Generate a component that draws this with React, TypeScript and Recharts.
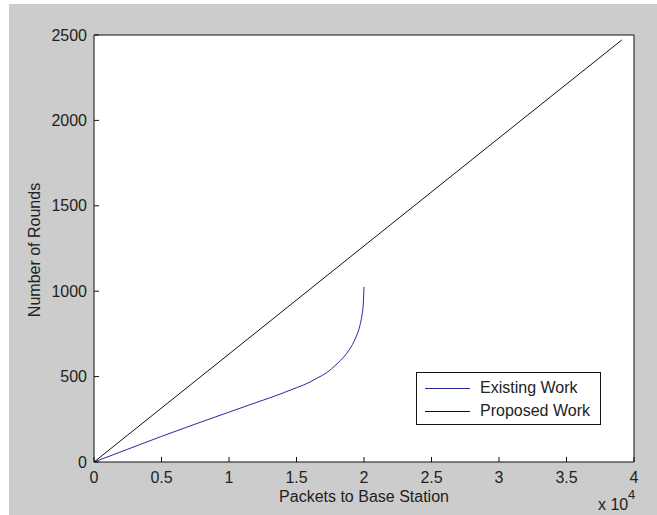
import { LineChart, Line, XAxis, YAxis, Legend } from 'recharts';

// packets to base station (raw counts, axis shows x 10^4)
const existingPackets = [0, 2500, 5000, 7500, 10000, 11500, 13000, 15000, 16000, 16500, 17200, 18000, 18500, 18900, 19400, 19700, 19850, 19950, 20000];
const existingRounds = [0, 75, 150, 222, 292, 334, 375, 435, 468, 490, 521, 575, 615, 656, 730, 800, 860, 930, 1025];

const proposedPackets = [0, 10000, 20000, 30000, 39100];
const proposedRounds = [0, 632, 1265, 1897, 2471];

const xTicks = [0, 5000, 10000, 15000, 20000, 25000, 30000, 35000, 40000];
const yTicks = [0, 500, 1000, 1500, 2000, 2500];

const existingData = existingPackets.map((x, i) => ({ x, y: existingRounds[i] }));
const proposedData = proposedPackets.map((x, i) => ({ x, y: proposedRounds[i] }));

const FONT = '"Liberation Sans", Arial, Helvetica, sans-serif';
const BLUE = '#28289a';
const tickStyle = { fill: '#222', fontSize: 16, fontFamily: FONT };

function LegendBox({ payload }: any) {
  return (
    <div
      style={{
        width: 183,
        height: 51,
        border: '1px solid #111',
        background: '#fff',
        fontFamily: FONT,
        fontSize: 16,
        color: '#222',
        position: 'relative',
      }}
    >
      {(payload || []).map((p: any, i: number) => (
        <div
          key={p.value}
          style={{ position: 'absolute', left: 0, top: i === 0 ? 5 : 28, height: 20, display: 'flex', alignItems: 'center' }}
        >
          <div style={{ marginLeft: 8, width: 45, height: 1, background: p.color }} />
          <span style={{ marginLeft: 10, whiteSpace: 'nowrap' }}>{p.value}</span>
        </div>
      ))}
    </div>
  );
}

export default function App() {
  return (
    <div style={{ position: 'absolute', left: 0, top: 0, width: 657, height: 515, background: '#fff', overflow: 'hidden' }}>
      <div style={{ position: 'absolute', left: 9, top: 4, width: 648, height: 511, background: '#cccccc' }} />
      <div style={{ position: 'absolute', left: 94, top: 35, width: 540, height: 427, background: '#fff' }} />

      <div style={{ position: 'absolute', left: 0, top: 0 }}>
        <LineChart width={657} height={515} margin={{ top: 0, right: 0, bottom: 0, left: 0 }}>
          <XAxis
            xAxisId="bottom"
            type="number"
            dataKey="x"
            domain={[0, 40000]}
            ticks={xTicks}
            height={53}
            tickSize={-5}
            tickMargin={15}
            interval={0}
            tickFormatter={(v) => `${v / 10000}`}
            tick={tickStyle}
            axisLine={{ stroke: '#111' }}
            tickLine={{ stroke: '#111' }}
          />
          <XAxis
            xAxisId="top"
            orientation="top"
            type="number"
            dataKey="x"
            domain={[0, 40000]}
            ticks={xTicks}
            height={35}
            tickSize={-5}
            interval={0}
            tickFormatter={() => ''}
            axisLine={{ stroke: '#111' }}
            tickLine={{ stroke: '#111' }}
          />
          <YAxis
            yAxisId="left"
            type="number"
            domain={[0, 2500]}
            ticks={yTicks}
            width={94}
            tickSize={-5}
            tickMargin={12}
            interval={0}
            tick={tickStyle}
            axisLine={{ stroke: '#111' }}
            tickLine={{ stroke: '#111' }}
          />
          <YAxis
            yAxisId="right"
            orientation="right"
            type="number"
            domain={[0, 2500]}
            ticks={yTicks}
            width={23}
            tickSize={-5}
            interval={0}
            tickFormatter={() => ''}
            axisLine={{ stroke: '#111' }}
            tickLine={{ stroke: '#111' }}
          />
          <Legend
            layout="vertical"
            align="center"
            verticalAlign="middle"
            wrapperStyle={{ left: 416, top: 372, width: 185 }}
            content={LegendBox}
          />
          <Line
            xAxisId="bottom"
            yAxisId="left"
            data={existingData}
            dataKey="y"
            name="Existing Work"
            type="monotone"
            stroke={BLUE}
            strokeWidth={1}
            dot={false}
            isAnimationActive={false}
          />
          <Line
            xAxisId="bottom"
            yAxisId="left"
            data={proposedData}
            dataKey="y"
            name="Proposed Work"
            type="linear"
            stroke="#111"
            strokeWidth={1}
            dot={false}
            isAnimationActive={false}
          />
        </LineChart>
      </div>

      <div style={{ position: 'absolute', left: 364, top: 488, transform: 'translateX(-50%)', fontFamily: FONT, fontSize: 16, color: '#222', whiteSpace: 'nowrap' }}>
        Packets to Base Station
      </div>
      <div
        style={{
          position: 'absolute',
          left: 35,
          top: 250,
          transform: 'translate(-50%, -50%) rotate(-90deg)',
          fontFamily: FONT,
          fontSize: 16,
          color: '#222',
          whiteSpace: 'nowrap',
        }}
      >
        Number of Rounds
      </div>
      <div style={{ position: 'absolute', left: 598, top: 496, fontFamily: FONT, fontSize: 16, color: '#222', whiteSpace: 'nowrap' }}>
        x 10
        <span style={{ position: 'absolute', left: 30, top: -9, fontSize: 13 }}>4</span>
      </div>
    </div>
  );
}
